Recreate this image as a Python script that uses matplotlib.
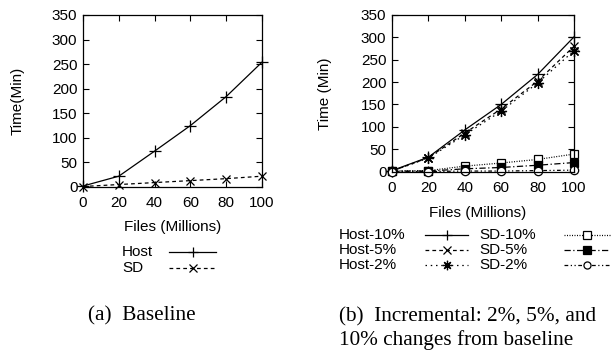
import matplotlib
matplotlib.use("Agg")
import matplotlib.pyplot as plt
from matplotlib.lines import Line2D

# ---- data ----
files = [0, 20, 40, 60, 80, 100]
yticks = [0, 50, 100, 150, 200, 250, 300, 350]

base_host = [2, 22, 73, 125, 184, 254]
base_sd = [1, 5, 9, 13, 17, 22]

host10 = [2, 32, 93, 150, 217, 301]
host5 = [1, 31, 86, 140, 202, 280]
host2 = [1, 30, 82, 135, 198, 270]
sd10 = [1, 2, 12, 19, 27, 39]
sd5 = [1, 1, 6, 9, 14, 20]
sd2 = [0, 0, 1, 1, 2, 3]

left_labels = ["Host", "SD"]
right_labels = ["Host-10%", "Host-5%", "Host-2%", "SD-10%", "SD-5%", "SD-2%"]

W, H = 611, 354
fig = plt.figure(figsize=(W / 100, H / 100), dpi=100)
plt.rcParams['font.family'] = ['Liberation Sans', 'DejaVu Sans']

SANS = ['Liberation Sans', 'DejaVu Sans']
SERIF = ['Liberation Serif', 'DejaVu Serif']
FS = 11
LW = 0.9

def px(x, y):
    return x / W, 1 - y / H

axL = fig.add_axes([83 / W, 1 - 187 / H, (262 - 83) / W, (187 - 15) / H])
axR = fig.add_axes([392 / W, 1 - 171.5 / H, (574 - 392) / W, (171.5 - 15) / H])

left_styles = [
    dict(ls='-', marker='+', ms=8, mew=0.9),
    dict(ls=(0, (3, 2.5)), marker='x', ms=6, mew=0.9),
]
right_styles = [
    dict(ls='-', marker='+', ms=8, mew=0.9),
    dict(ls=(0, (3, 2.5)), marker='x', ms=6, mew=0.9),
    dict(ls=(0, (1.2, 3)), marker=(8, 2, 0), ms=8, mew=0.9),
    dict(ls=(0, (0.8, 1.2)), marker='s', ms=6, mew=0.9, mfc='white'),
    dict(ls=(0, (5, 2, 1, 2)), marker='s', ms=6, mew=0.9, mfc='black'),
    dict(ls=(0, (3, 2, 1, 2, 1, 2)), marker='o', ms=6, mew=0.9, mfc='white'),
]

for vals, st in zip([base_host, base_sd], left_styles):
    axL.plot(files, vals, color='black', lw=LW, clip_on=False, **st)
for vals, st in zip([host10, host5, host2, sd10, sd5, sd2], right_styles):
    axR.plot(files, vals, color='black', lw=LW, clip_on=False, **st)

for ax in (axL, axR):
    ax.set_xlim(0, 100)
    ax.set_ylim(0, 350)
    ax.set_xticks(files)
    ax.set_yticks(yticks)
    ax.tick_params(direction='in', top=True, right=True, length=4, width=0.8,
                   labelsize=FS)
    ax.tick_params(axis='x', pad=6.5)
    ax.tick_params(axis='y', pad=4)
    for s in ax.spines.values():
        s.set_linewidth(0.9)
    for lab in ax.get_xticklabels() + ax.get_yticklabels():
        lab.set_family(SANS)

axL.set_xlabel('Files (Millions)', fontsize=FS, family=SANS)
axL.set_ylabel('Time(Min)', fontsize=FS, family=SANS)
axL.xaxis.set_label_coords((173 - 83) / 179, -(220 - 187) / 172)
axL.yaxis.set_label_coords((25 - 83) / 179, 0.5)

axR.set_xlabel('Files (Millions)', fontsize=FS, family=SANS)
axR.set_ylabel('Time (Min)', fontsize=FS, family=SANS)
axR.xaxis.set_label_coords((478 - 392) / 182, -(206 - 171.5) / 156.5)
axR.yaxis.set_label_coords((332 - 392) / 182, 0.5)

# ---- legends (gnuplot style: text, then sample) ----
def legend_entry(text_x, y, x0, x1, label, st):
    fx, fy = px(text_x, y)
    fig.text(fx, fy, label, fontsize=FS, family=SANS, ha='left', va='center')
    a0, _ = px(x0, y)
    a1, _ = px(x1, y)
    am, _ = px((x0 + x1) / 2, y)
    st2 = dict(st)
    ms = st2.pop('ms')
    mew = st2.pop('mew')
    mfc = st2.pop('mfc', None)
    marker = st2.pop('marker')
    ls = st2.pop('ls')
    fig.add_artist(Line2D([a0, a1], [fy, fy], color='black', lw=LW, ls=ls,
                          transform=fig.transFigure))
    kw = dict(mfc=mfc) if mfc is not None else {}
    fig.add_artist(Line2D([am], [fy], color='black', lw=0, marker=marker,
                          ms=ms * 0.85, mew=mew, transform=fig.transFigure, **kw))

for i, (lab, st) in enumerate(zip(left_labels, left_styles)):
    legend_entry(122, 252 + i * 15.5, 169, 216, lab, st)

for i, (lab, st) in enumerate(zip(right_labels, right_styles)):
    col, row = divmod(i, 3)
    y = 235 + row * 15
    if col == 0:
        legend_entry(339, y, 425, 468, lab, st)
    else:
        legend_entry(479, y, 564, 610, lab, st)

# ---- captions ----
CFS = 15.3
fig.text(*px(88, 320), '(a)  Baseline', fontsize=CFS, family=SERIF,
         ha='left', va='baseline')
fig.text(*px(339, 321), '(b)  Incremental: 2%, 5%, and', fontsize=CFS,
         family=SERIF, ha='left', va='baseline')
fig.text(*px(339, 345), '10% changes from baseline', fontsize=CFS,
         family=SERIF, ha='left', va='baseline')

fig.savefig('out.png', dpi=100)
